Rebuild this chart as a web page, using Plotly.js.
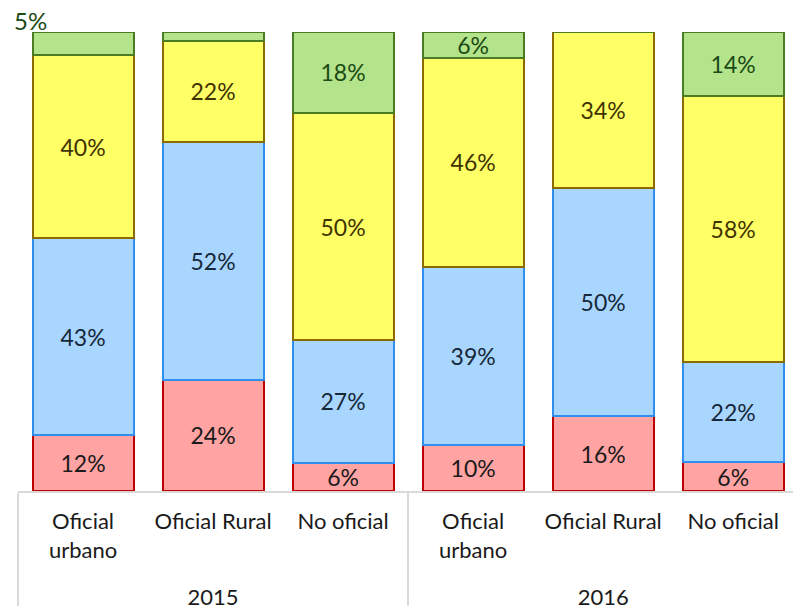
<!DOCTYPE html>
<html>
<head>
<meta charset="utf-8">
<script src="https://cdn.plot.ly/plotly-3.0.1.min.js"></script>
<style>html,body{margin:0;padding:0;background:#fff;}#chart{width:793px;height:606px;}</style>
</head>
<body>
<div id="chart"></div>
<script>
const years = ["2015", "2015", "2015", "2016", "2016", "2016"];
const categories = ["Oficial<br>urbano", "Oficial Rural", "No oficial", "Oficial<br>urbano", "Oficial Rural", "No oficial"];
const red = [12.2, 24.2, 6.2, 10.1, 16.3, 6.3];
const blue = [42.9, 51.9, 26.6, 38.7, 49.7, 21.8];
const yellow = [39.9, 22.0, 49.6, 45.6, 34.0, 58.0];
const green = [5.0, 1.9, 17.6, 5.6, 0.0, 13.9];
const greenShowLabel = [false, false, true, true, false, true];

const FONT = "Lato, 'Open Sans', sans-serif";

function mk(vals, fill, line, textColor, show) {
  return {
    type: "bar",
    x: [years.map(y => "<br>" + y), categories],
    y: vals,
    marker: {color: fill, line: {color: line, width: 2}},
    texttemplate: vals.map((v, i) => (show && !show[i]) ? "" : "%{y:.0f}%"),
    textposition: "inside",
    insidetextanchor: "middle",
    textangle: 0,
    constraintext: "none",
    textfont: {family: FONT, size: 23, color: textColor},
    hoverinfo: "skip"
  };
}

const data = [
  mk(red, "#FFA3A3", "#C00000", "#1a1a1a"),
  mk(blue, "#A9D6FF", "#2E8FF0", "#16283a"),
  mk(yellow, "#FFFF66", "#8B6A00", "#3f3300"),
  mk(green, "#B3E38A", "#4A7D23", "#1c4a14", greenShowLabel)
];

const layout = {
  width: 793, height: 606,
  margin: {l: 18, r: 0, t: 32, b: 115, pad: 0},
  barmode: "stack",
  bargap: 0.223,
  showlegend: false,
  paper_bgcolor: "#ffffff",
  plot_bgcolor: "#ffffff",
  font: {family: FONT, size: 22, color: "#1a1a1a"},
  xaxis: {
    type: "multicategory",
    range: [-0.5, 5.46],
    showline: true, linecolor: "#d9d9d9", linewidth: 1.5,
    showdividers: true, dividercolor: "#d9d9d9", dividerwidth: 1.5,
    ticks: "", showgrid: false,
    ticklabelstandoff: 10,
    tickfont: {family: FONT, size: 22, color: "#1a1a1a"}
  },
  yaxis: {
    range: [0, 100],
    visible: false,
    showgrid: false, zeroline: false
  },
  annotations: [{
    xref: "paper", yref: "paper",
    x: 0.0155, y: 1.026, xanchor: "center", yanchor: "middle",
    text: Math.round(green[0]) + "%",
    showarrow: false,
    font: {family: FONT, size: 24, color: "#1c4a14"}
  }]
};

Plotly.newPlot("chart", data, layout, {displayModeBar: false, staticPlot: true});
</script>
</body>
</html>
